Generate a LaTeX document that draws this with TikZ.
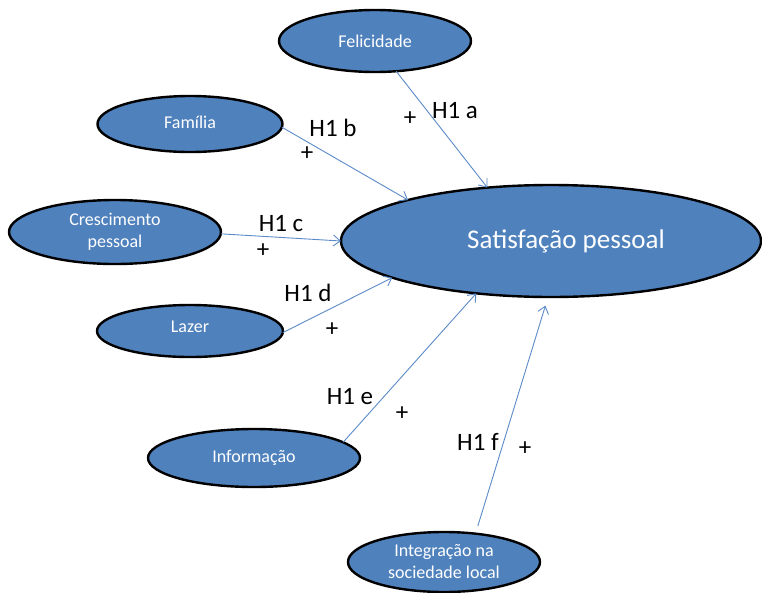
\documentclass[tikz,border=0pt]{standalone}
\usepackage{fontspec}
\setmainfont{Carlito}
\usetikzlibrary{shapes.geometric,arrows.meta}
\definecolor{nodefill}{HTML}{4F81BD}
\definecolor{arrowcol}{HTML}{5B8AC8}
\tikzset{
  oval/.style={ellipse, draw=black, line width=2.4pt, fill=nodefill, inner sep=0pt, outer sep=0pt,
    text=white, font=\fontsize{18}{22}\selectfont, align=center},
  link/.style={draw=arrowcol, line width=0.9pt, -{Straight Barb[length=7pt,width=11pt]}},
  hlabel/.style={font=\fontsize{25}{30}\selectfont, text=black, inner sep=0pt},
}
\begin{document}
\begin{tikzpicture}[x=1pt,y=-1pt]
\useasboundingbox (0,0) rectangle (762,592);
\node[oval, minimum width=420pt, minimum height=112pt, font=\fontsize{27}{32}\selectfont] (sat) at (551,241) {\hspace*{30pt}Satisfação pessoal};
\node[oval, minimum width=192pt, minimum height=62pt] (fel) at (375,41) {Felicidade};
\node[oval, minimum width=185pt, minimum height=56pt] (fam) at (190,124) {\raisebox{3pt}{Família}};
\node[oval, minimum width=212pt, minimum height=64pt] (cres) at (115,232) {Crescimento\\pessoal};
\node[oval, minimum width=186pt, minimum height=52pt] (laz) at (190,331) {\raisebox{8pt}{Lazer}};
\node[oval, minimum width=212pt, minimum height=58pt] (inf) at (254,458) {Informação};
\node[oval, minimum width=192pt, minimum height=60pt] (int) at (444,562) {Integração na\\sociedade local};

\draw[link] (fel.-55) -- (sat.140);
\draw[link] (fam.-2) -- (sat.164);
\draw[link] (cres.-1) -- (sat.180);
\draw[link] (laz.-1) -- (sat.193);
\draw[link] (inf.10) -- (sat.215);
\draw[link, shorten <=8pt, shorten >=9pt] (int.42) -- (sat.267);

\node[hlabel] (la) at (455,111) {H1 a};
\node[hlabel] (pa) at (410,119) {+};
\node[hlabel] (lb) at (333,128) {H1 b};
\node[hlabel] (pb) at (307,154) {+};
\node[hlabel] (lc) at (281,224) {H1 c};
\node[hlabel] (pc) at (263,251) {+};
\node[hlabel] (ld) at (308,293) {H1 d};
\node[hlabel] (pd) at (332,330) {+};
\node[hlabel] (le) at (350,397) {H1 e};
\node[hlabel] (pe) at (402,414) {+};
\node[hlabel] (lf) at (478,442) {H1 f};
\node[hlabel] (pf) at (525,449) {+};
\end{tikzpicture}
\end{document}
